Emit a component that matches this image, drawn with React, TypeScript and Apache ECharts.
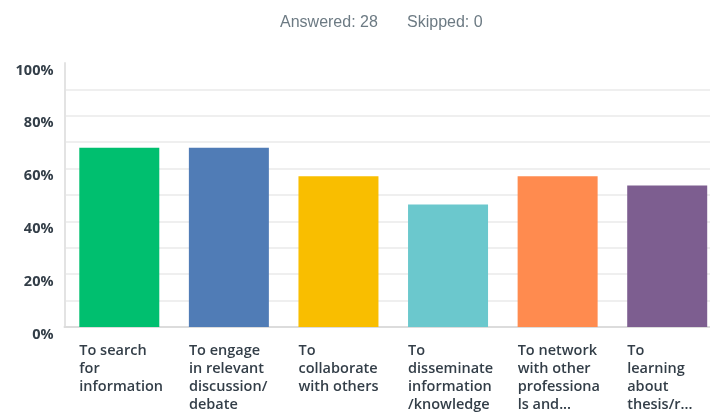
import React, { useEffect, useRef } from "react";
import * as echarts from "echarts";

const categories = [
  "To search\nfor\ninformation",
  "To engage\nin relevant\ndiscussion/\ndebate",
  "To\ncollaborate\nwith others",
  "To\ndisseminate\ninformation\n/knowledge",
  "To network\nwith other\nprofessiona\nls and...",
  "To\nlearning\nabout\nthesis/r...",
];
const values = [67.86, 67.86, 57.14, 46.43, 57.14, 53.57];
const barColors = ["#00bf6f", "#507cb6", "#f9be00", "#6bc8cd", "#ff8b4f", "#7d5e90"];
const yTickLabels = ["0%", "", "20%", "", "40%", "", "60%", "", "80%", "", "100%"];
const answeredText = "Answered: 28";
const skippedText = "Skipped: 0";

export default function App() {
  const ref = useRef<HTMLDivElement>(null);
  useEffect(() => {
    if (!ref.current) return;
    const chart = echarts.init(ref.current, null, { renderer: "svg" });
    const gridColors = yTickLabels.map((_, i) => (i === yTickLabels.length - 1 ? "rgba(0,0,0,0)" : "#efefef"));
    chart.setOption({
      animation: false,
      graphic: [
        {
          type: "text",
          left: 280,
          top: 13,
          style: { text: answeredText, font: "16px 'Liberation Sans', Arial, sans-serif", fill: "#6c7a83" },
        },
        {
          type: "text",
          left: 407,
          top: 13,
          style: { text: skippedText, font: "16px 'Liberation Sans', Arial, sans-serif", fill: "#6c7a83" },
        },
      ],
      grid: { left: 64.5, top: 63, right: 0, bottom: 85, containLabel: false },
      xAxis: {
        type: "category",
        data: categories,
        axisLine: { show: true, lineStyle: { color: "#dcdcdc", width: 2 } },
        axisTick: { show: false },
        axisLabel: {
          interval: 0,
          margin: 13,
          align: "center",
          verticalAlign: "top",
          formatter: (v: string) => v.split("\n").map((l) => `{a|${l}}`).join("\n"),
          rich: {
            a: {
              width: 80,
              align: "left",
              fontFamily: "'Open Sans', sans-serif",
              fontSize: 14.5,
              fontWeight: 600,
              color: "#333e48",
              lineHeight: 18,
            },
          },
        },
      },
      yAxis: {
        type: "value",
        min: 0,
        max: 100,
        interval: 10,
        axisLine: { show: true, lineStyle: { color: "#e3e3e3", width: 2 } },
        axisTick: { show: false },
        splitLine: { show: true, lineStyle: { color: gridColors, width: 2 } },
        axisLabel: {
          margin: 11,
          formatter: (v: number) => yTickLabels[Math.round(v / 10)] ?? "",
          fontFamily: "'Open Sans', sans-serif",
          fontSize: 14.5,
          fontWeight: 700,
          color: "#333e48",
          verticalAlign: "top",
          lineHeight: 12,
        },
      },
      series: [
        {
          type: "bar",
          data: values.map((v, i) => ({ value: v, itemStyle: { color: barColors[i] } })),
          barWidth: 80,
        },
      ],
    });
    return () => chart.dispose();
  }, []);
  return (
    <div style={{ position: "fixed", left: 0, top: 0, width: 710, height: 412, overflow: "hidden" }}>
      <div ref={ref} style={{ width: 722, height: 412 }} />
    </div>
  );
}
